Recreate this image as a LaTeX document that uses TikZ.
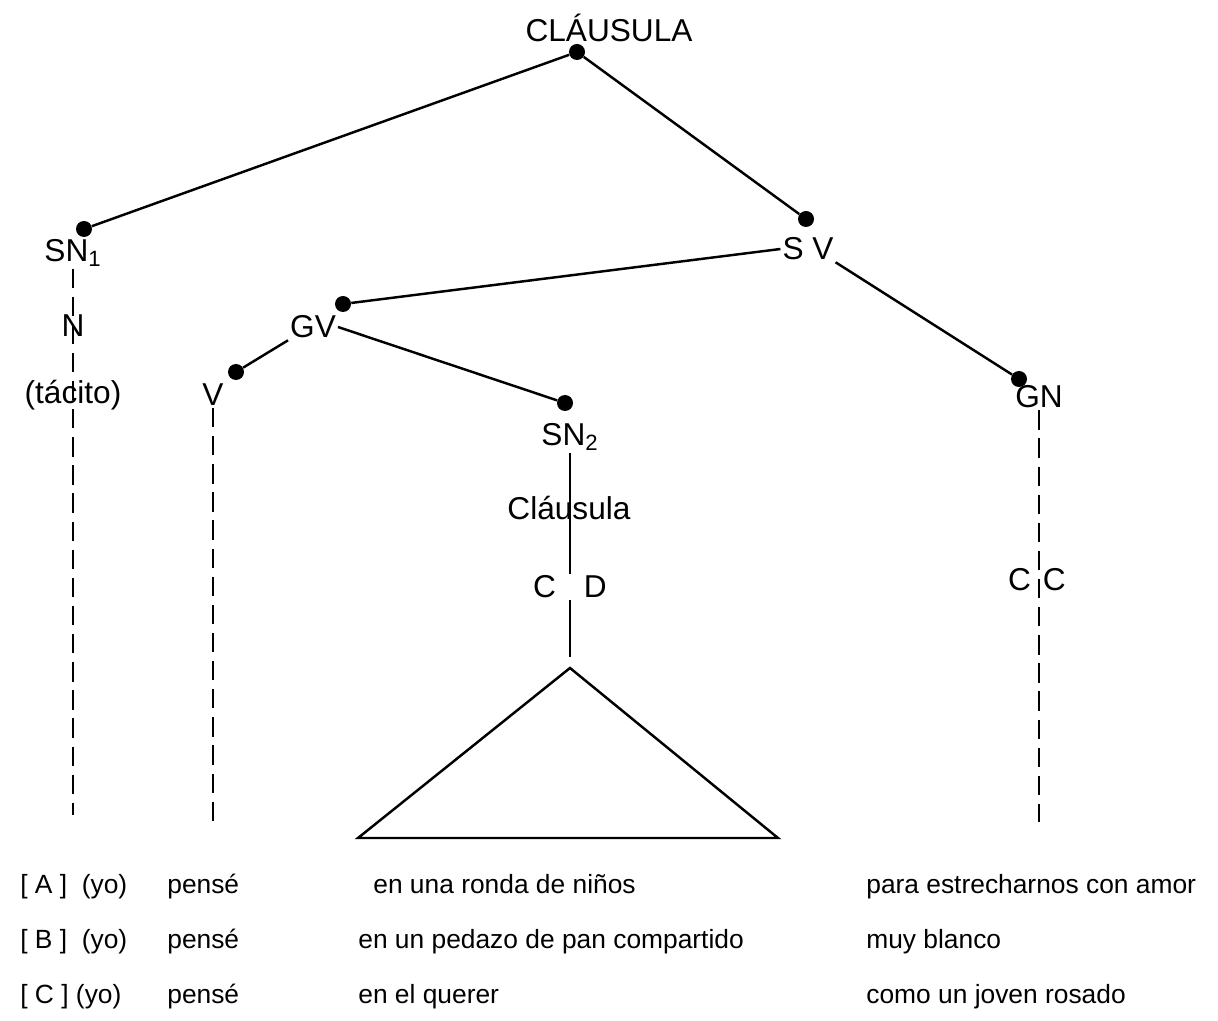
\documentclass[tikz,border=0pt]{standalone}
\usepackage{fontspec}
\setmainfont{Liberation Sans}
\usepackage{tikz}
\usetikzlibrary{positioning}

\begin{document}
\begin{tikzpicture}
    [
    point/.style={circle,fill,inner sep=0pt,minimum size=3.2mm},
    cat/.style={inner sep=1pt,font=\fontsize{18}{21}\selectfont},
    row/.style={anchor=base west,inner sep=0pt,font=\fontsize{15}{18}\selectfont},
    branch/.style={line width=1.4pt},
    gap/.style={line width=1.4pt,dash pattern=on 11pt off 5pt}
    ]
    \useasboundingbox (0,0) rectangle (24.36,-20.42);

    \node (dC) at (11.54,-1.04) [point] {};
    \node (dSN1) at (1.68,-4.58) [point] {};
    \node (dSV) at (16.12,-4.38) [point] {};
    \node (dGV) at (6.86,-6.08) [point] {};
    \node (dV) at (4.72,-7.44) [point] {};
    \node (dSN2) at (11.30,-8.06) [point] {};
    \node (dGN) at (20.38,-7.58) [point] {};

    \node (tC) at (12.18,-0.56) [cat] {CLÁUSULA};
    \node (tSN1) at (1.46,-5.06) [cat] {SN\textsubscript{1}};
    \node (tSV) at (16.16,-4.98) [cat] {S V};
    \node (tGV) at (6.26,-6.54) [cat] {GV};
    \node (tN) at (1.46,-6.52) [cat] {N};
    \node (tTac) at (1.46,-7.90) [cat] {(tácito)};
    \node (tV) at (4.26,-7.90) [cat] {V};
    \node (tSN2) at (11.40,-8.74) [cat] {SN\textsubscript{2}};
    \node (tGN) at (20.78,-7.94) [cat] {GN};
    \node (tCl) at (11.38,-10.16) [cat] {Cláusula};
    \node (tCD) at (11.40,-11.74) [cat] {C\hspace{0.56cm}D};
    \node (tCC) at (20.74,-11.60) [cat] {C\hspace{0.24cm}C};

    \coordinate (eSN1) at (1.46,-16.30);
    \coordinate (eV) at (4.26,-16.44);
    \coordinate (eGN) at (20.78,-16.44);
    \coordinate (apex) at (11.40,-13.36);
    \coordinate (bl) at (7.16,-16.76);
    \coordinate (br) at (15.56,-16.76);

    % tree
    \draw [branch] (dC) to (dSN1);
    \draw [branch] (dC) to (dSV);
    \draw [branch] (tSV.west) to (dGV);
    \draw [branch] (tSV.south east) to (dGN);
    \draw [branch] (tGV.east) to (dSN2);
    \draw [branch] (tGV.south west) to (dV);
    \draw [branch] (tSN2) to (tCD);
    \draw [branch, shorten >=0.22cm] (tCD) to (apex);
    \draw [branch] (apex) -- (bl) -- (br) -- cycle;

    \draw [gap] (tSN1) to (eSN1);
    \draw [gap] (tV) to (eV);
    \draw [gap] (tGN) to (eGN);

    % rows
    \node (rA) at (0.40,-17.86) [row] {[ A ]\ \ (yo)};
    \node (rB) at (0.40,-18.96) [row] {[ B ]\ \ (yo)};
    \node (rC) at (0.40,-20.06) [row] {[ C ] (yo)};
    \node (vA) at (3.34,-17.86) [row] {pensé};
    \node (vB) at (3.34,-18.96) [row] {pensé};
    \node (vC) at (3.34,-20.06) [row] {pensé};
    \node (oA) at (7.46,-17.86) [row] {en una ronda de niños};
    \node (oB) at (7.16,-18.96) [row] {en un pedazo de pan compartido};
    \node (oC) at (7.16,-20.06) [row] {en el querer};
    \node (cA) at (17.32,-17.86) [row] {para estrecharnos con amor};
    \node (cB) at (17.32,-18.96) [row] {muy blanco};
    \node (cC) at (17.32,-20.06) [row] {como un joven rosado};
\end{tikzpicture}
\end{document}
